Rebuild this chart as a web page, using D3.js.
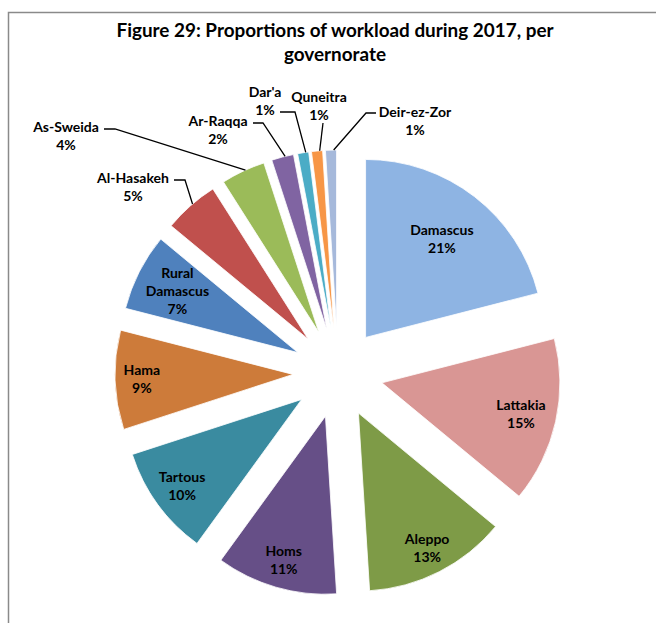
<!DOCTYPE html>
<html>
<head>
<meta charset="utf-8">
<script src="https://cdn.jsdelivr.net/npm/d3@7"></script>
<style>
  html, body { margin: 0; padding: 0; background: #ffffff; }
  svg { display: block; }
  text { font-family: Lato, "Open Sans", "Liberation Sans", sans-serif; font-weight: 700; fill: #000; }
</style>
</head>
<body>
<svg id="chart" width="656" height="623"></svg>
<script>
// Workload share per governorate, 2017 (percent)
const governorates = ["Damascus", "Lattakia", "Aleppo", "Homs", "Tartous", "Hama",
  "Rural Damascus", "Al-Hasakeh", "As-Sweida", "Ar-Raqqa", "Dar'a", "Quneitra", "Deir-ez-Zor"];
const shares = [21, 15, 13, 11, 10, 9, 7, 5, 4, 2, 1, 1, 1];
const sliceColors = ["#8EB4E3", "#D99694", "#7E9B47", "#664F87", "#3A8BA0", "#CD7B3A",
  "#4F81BD", "#C0504D", "#9BBB59", "#8064A2", "#4BACC6", "#F79646", "#A6B9DB"];
const titleLines = ["Figure 29: Proportions of workload during 2017, per", "governorate"];

// Layout
const W = 656, H = 623;
const cx = 338, cy = 373;      // pie centre
const R = 178;                 // slice radius
const explode = 45;            // each slice pushed out along its bisector
const labelSize = 14;

// Inside labels: distance from slice tip as a fraction of R
const insideLabelFrac = {
  "Damascus": 0.70, "Lattakia": 0.80, "Aleppo": 0.85, "Homs": 0.84,
  "Tartous": 0.83, "Hama": 0.85, "Rural Damascus": 0.76
};
// Outside labels: centre of the first text line and the elbow of the leader, relative to pie centre
const outsideLabels = {
  "Al-Hasakeh":  { tx: -205, ty: -195, elbow: [[-164, -193], [-153, -193]] },
  "As-Sweida":   { tx: -272, ty: -246, elbow: [[-234, -244], [-223, -244]] },
  "Ar-Raqqa":    { tx: -120, ty: -252, elbow: [[-85, -250], [-75, -250]] },
  "Dar'a":       { tx: -73,  ty: -281, elbow: [[-58, -261], [-43, -261]] },
  "Quneitra":    { tx: -19,  ty: -276, elbow: [[-15, -250], [-15, -250]] },
  "Deir-ez-Zor": { tx: 77,   ty: -261, elbow: [[38, -260], [28, -260]] }
};

const svg = d3.select("#chart");

// Frame
svg.append("path")
  .attr("d", `M8.5,${H} L8.5,12.5 L${W},12.5`)
  .attr("fill", "none")
  .attr("stroke", "#8a8a8a")
  .attr("stroke-width", 1.5);

// Title
svg.append("g").selectAll("text")
  .data(titleLines)
  .join("text")
  .attr("x", 335)
  .attr("y", (d, i) => 37 + i * 24)
  .attr("text-anchor", "middle")
  .attr("font-size", 18.9)
  .text(d => d);

const data = governorates.map((name, i) => ({ name, value: shares[i], color: sliceColors[i] }));

const pie = d3.pie().sort(null).value(d => d.value).startAngle(0).endAngle(2 * Math.PI);
const arcs = pie(data);
const arc = d3.arc().innerRadius(0).outerRadius(R);

const polar = (angle, dist) => [Math.sin(angle) * dist, -Math.cos(angle) * dist];

const pieG = svg.append("g").attr("transform", `translate(${cx},${cy})`);

const slices = pieG.selectAll("g.slice")
  .data(arcs)
  .join("g")
  .attr("class", "slice")
  .attr("transform", d => {
    const mid = (d.startAngle + d.endAngle) / 2;
    const [ox, oy] = polar(mid, explode);
    return `translate(${ox},${oy})`;
  });

slices.append("path")
  .attr("d", arc)
  .attr("fill", d => d.data.color)
  .attr("stroke", "#ffffff")
  .attr("stroke-width", 0.8);

// Inside labels
slices.filter(d => insideLabelFrac[d.data.name] !== undefined)
  .each(function (d) {
    const mid = (d.startAngle + d.endAngle) / 2;
    const [lx, ly] = polar(mid, R * insideLabelFrac[d.data.name]);
    const lines = d.data.name === "Rural Damascus"
      ? ["Rural", "Damascus", d.data.value + "%"]
      : [d.data.name, d.data.value + "%"];
    const y0 = ly - (lines.length - 1) * 9;
    d3.select(this).append("text")
      .attr("text-anchor", "middle")
      .attr("font-size", labelSize)
      .selectAll("tspan")
      .data(lines)
      .join("tspan")
      .attr("x", lx)
      .attr("y", (t, i) => y0 + i * 18)
      .attr("dy", "0.35em")
      .text(t => t);
  });

// Outside labels with leader lines
const outer = pieG.append("g");
arcs.filter(d => outsideLabels[d.data.name]).forEach(d => {
  const cfg = outsideLabels[d.data.name];
  const mid = (d.startAngle + d.endAngle) / 2;
  const [ox, oy] = polar(mid, explode);
  const [ex, ey] = polar(mid + 0.015, R);
  const end = [ox + ex, oy + ey];
  const pts = [...cfg.elbow, end];
  outer.append("path")
    .attr("d", d3.line()(pts))
    .attr("fill", "none")
    .attr("stroke", "#000")
    .attr("stroke-width", 1.3);
  outer.append("text")
    .attr("text-anchor", "middle")
    .attr("font-size", labelSize)
    .selectAll("tspan")
    .data([d.data.name, d.data.value + "%"])
    .join("tspan")
    .attr("x", cfg.tx)
    .attr("y", (t, i) => cfg.ty + i * 18)
    .attr("dy", "0.35em")
    .text(t => t);
});
</script>
</body>
</html>
